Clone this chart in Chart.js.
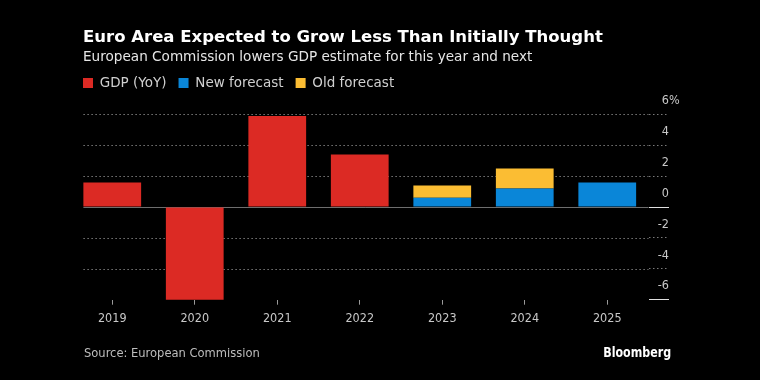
<!DOCTYPE html>
<html>
<head>
<meta charset="utf-8">
<script src="https://cdn.jsdelivr.net/npm/chart.js@4"></script>
<style>
  html, body { margin: 0; padding: 0; background: #000; }
  #wrap { position: relative; width: 760px; height: 380px; background: #000; overflow: hidden; }
  #chart { position: absolute; left: 0; top: 0; }
  .txt { position: absolute; white-space: nowrap; font-family: 'DejaVu Sans', sans-serif; }
  #title { left: 83px; top: 26.6px; font-size: 16.5px; line-height: 20px; font-weight: bold; color: #fff; }
  #subtitle { left: 83px; top: 47.3px; font-size: 13.6px; line-height: 18px; color: #e6e6e6; }
  #source { left: 84px; top: 345.3px; font-family: 'DejaVu Sans Condensed', sans-serif; font-size: 12.8px; line-height: 16px; color: #bdbdbd; }
  #brand { right: 89px; top: 343.9px; font-family: 'DejaVu Sans Condensed', sans-serif; font-weight: bold; font-size: 14px; line-height: 16px; color: #fff; transform: scaleX(0.88); transform-origin: right center; }
</style>
</head>
<body>
<div id="wrap">
  <canvas id="chart" width="760" height="380"></canvas>
  <div class="txt" id="title">Euro Area Expected to Grow Less Than Initially Thought</div>
  <div class="txt" id="subtitle">European Commission lowers GDP estimate for this year and next</div>
  <div class="txt" id="source">Source: European Commission</div>
  <div class="txt" id="brand">Bloomberg</div>
</div>
<script>
// ---- data ----
const years = ['2019', '2020', '2021', '2022', '2023', '2024', '2025'];
const gdpYoY = [1.6, -6.1, 5.9, 3.4, null, null, null];
const newForecast = [null, null, null, null, 0.6, 1.2, 1.6];
const oldForecast = [null, null, null, null, 0.8, 1.3, null]; // stacked on top of new forecast
const seriesNames = ['GDP (YoY)', 'New forecast', 'Old forecast'];
const yMin = -6, yMax = 6, yStep = 2;
const yUnit = '%';

const RED = '#dc2a24', BLUE = '#0a86d8', YELLOW = '#fbbd33';
const TICK_FONT = { family: "'DejaVu Sans Condensed', sans-serif", size: 12.5 };
const TICK_LEN = 20.5;

// width of the widest y label, so labels can be right-aligned at the tick end
const mctx = document.createElement('canvas').getContext('2d');
mctx.font = TICK_FONT.size + 'px ' + TICK_FONT.family;
let widest = 0;
for (let v = yMin; v <= yMax; v += yStep) widest = Math.max(widest, mctx.measureText(String(v)).width);

const isSpecial = v => v === 0 || v === yMin;

const gridPlugin = {
  id: 'bbgGrid',
  beforeDatasetsDraw(chart) {
    const { ctx, chartArea, scales } = chart;
    const y = scales.y;
    const meta = chart.getDatasetMeta(0);
    const first = meta.data[0];
    const x0 = first.x - first.width / 2;
    const x1 = chartArea.right;
    ctx.save();
    ctx.lineWidth = 1;
    y.ticks.forEach(t => {
      const v = t.value;
      if (v === yMin) return;
      const py = Math.round(y.getPixelForValue(v)) + 0.5;
      ctx.beginPath();
      if (v === 0) { ctx.setLineDash([]); ctx.strokeStyle = '#6e6e6e'; }
      else { ctx.setLineDash([1.5, 2.5]); ctx.strokeStyle = '#7a7a7a'; }
      ctx.moveTo(x0, py); ctx.lineTo(x1, py); ctx.stroke();
    });
    ctx.restore();
  },
  afterDraw(chart) {
    // unit suffix hanging after the top label
    const y = chart.scales.y;
    const ctx = chart.ctx;
    ctx.save();
    ctx.font = TICK_FONT.size + 'px ' + TICK_FONT.family;
    ctx.fillStyle = '#c8c8c8';
    ctx.textAlign = 'left';
    ctx.textBaseline = 'middle';
    ctx.fillText(yUnit, y.left + TICK_LEN, y.getPixelForValue(yMax) - 13.5);
    ctx.restore();
  }
};

new Chart(document.getElementById('chart'), {
  type: 'bar',
  data: {
    labels: years,
    datasets: [
      { label: seriesNames[0], data: gdpYoY, backgroundColor: RED, borderWidth: 0 },
      { label: seriesNames[1], data: newForecast, backgroundColor: BLUE, borderWidth: 0 },
      { label: seriesNames[2], data: oldForecast, backgroundColor: YELLOW, borderWidth: 0 }
    ]
  },
  options: {
    responsive: false,
    animation: false,
    devicePixelRatio: 1,
    layout: { padding: { left: 71, right: 91, top: 64.25, bottom: 46.3 } },
    datasets: { bar: { barPercentage: 0.7, categoryPercentage: 1.0 } },
    plugins: {
      legend: {
        position: 'top',
        align: 'start',
        labels: {
          boxWidth: 10, boxHeight: 10, padding: 12,
          color: '#d0d0d0',
          font: { family: "'DejaVu Sans', sans-serif", size: 13.5 }
        }
      },
      subtitle: { display: true, text: '', weight: 500, font: { size: 1 }, padding: { top: 0, bottom: 13.5 } },
      title: { display: false },
      tooltip: { enabled: false }
    },
    scales: {
      x: {
        stacked: true,
        grid: { display: true, offset: false, drawOnChartArea: false, drawTicks: true, tickLength: 5, tickColor: '#9a9a9a' },
        border: { display: false },
        ticks: { color: '#c8c8c8', font: TICK_FONT, padding: 7, maxRotation: 0 }
      },
      y: {
        stacked: true,
        position: 'right',
        min: yMin, max: yMax,
        grid: {
          display: true, drawOnChartArea: false, drawTicks: true, tickLength: TICK_LEN,
          tickColor: c => isSpecial(c.tick.value) ? '#e0e0e0' : '#7a7a7a',
          tickBorderDash: c => isSpecial(c.tick.value) ? [] : [1.5, 2.5]
        },
        border: { display: false },
        ticks: {
          stepSize: yStep,
          color: '#c8c8c8', font: TICK_FONT,
          crossAlign: 'far',
          padding: -widest,
          labelOffset: -13.5,
          callback: v => String(v)
        },
        afterFit: s => { s.width = TICK_LEN; }
      }
    }
  },
  plugins: [gridPlugin]
});
</script>
</body>
</html>
